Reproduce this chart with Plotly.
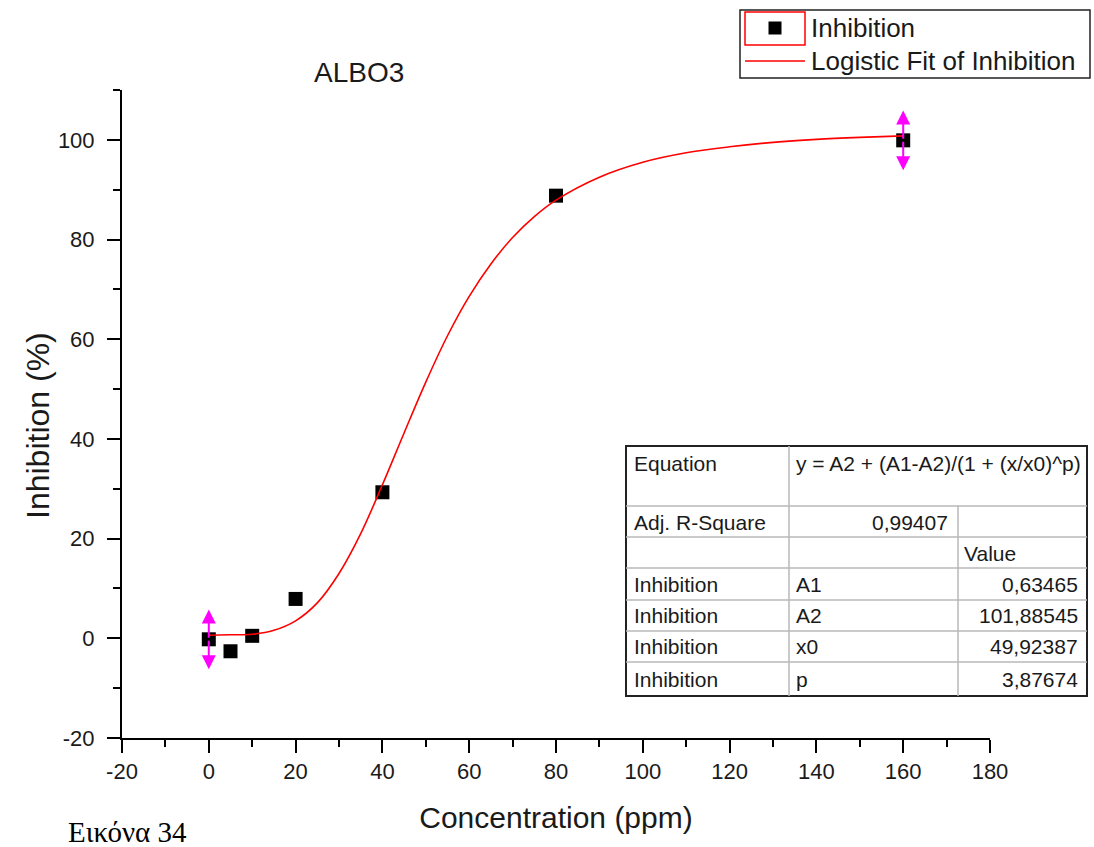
import plotly.graph_objects as go

# ---------------- data ----------------
conc = [0, 5, 10, 20, 40, 80, 160]
inhibition = [-0.2, -2.6, 0.5, 7.9, 29.3, 88.8, 99.9]
err = [6, None, None, None, None, None, 6]

fit_x = [0, 5, 10, 15, 20, 25, 30, 35, 40, 45, 50, 55, 60, 65, 70, 75, 80,
         90, 100, 110, 120, 130, 140, 150, 160]
fit_y = [0.6, 0.7, 0.8, 1.6, 3.5, 7.1, 13.0, 21.0, 30.8, 41.2, 51.4, 60.7, 68.6,
         75.1, 80.4, 84.6, 87.9, 92.5, 95.5, 97.4, 98.6, 99.5, 100.1, 100.5, 100.8]

x_ticks = [-20, 0, 20, 40, 60, 80, 100, 120, 140, 160, 180]
x_ticktext = ["-20", "0", "20", "40", "60", "80", "100", "120", "140", "160", "180"]
y_ticks = [-20, 0, 20, 40, 60, 80, 100]
y_ticktext = ["-20", "0", "20", "40", "60", "80", "100"]

series_names = ["Inhibition", "Logistic Fit of Inhibition"]

table_equation = "y = A2 + (A1-A2)/(1 + (x/x0)^p)"
adj_r2 = "0,99407"
param_rows = ["Inhibition", "Inhibition", "Inhibition", "Inhibition"]
param_names = ["A1", "A2", "x0", "p"]
param_values = ["0,63465", "101,88545", "49,92387", "3,87674"]

# ---------------- layout geometry ----------------
W, H = 1094, 847
ML, MR, MT, MB = 122, 104, 90, 109
PW, PH = W - ML - MR, H - MT - MB
FONT = "Liberation Sans, Arial, sans-serif"
TXT = "#1a1a1a"


def px(xp):
    return (xp - ML) / PW


def py(yp):
    return (H - MB - yp) / PH


fig = go.Figure()

fig.add_trace(go.Scatter(
    x=conc, y=inhibition, mode="markers", name=series_names[0],
    marker=dict(symbol="square", size=14, color="black",
                line=dict(width=0)),
))
fig.add_trace(go.Scatter(
    x=fit_x, y=fit_y, mode="lines", name=series_names[1],
    line=dict(color="#ff0000", width=1.6, shape="spline"),
))

annotations = []
shapes = []

# magenta double-headed error arrows
for xv, yv, e in zip(conc, inhibition, err):
    if e is None:
        continue
    for sgn in (1, -1):
        annotations.append(dict(
            x=xv, y=yv + sgn * e, ax=xv, ay=yv, xref="x", yref="y",
            axref="x", ayref="y", showarrow=True, arrowhead=2,
            arrowsize=1.4, arrowwidth=2, arrowcolor="#ff00ff", text="",
        ))

# title
annotations.append(dict(
    x=px(359), y=py(72), xref="paper", yref="paper", text="ALBO3",
    showarrow=False, xanchor="center", yanchor="middle",
    font=dict(family=FONT, size=28, color=TXT),
))
# y axis title
annotations.append(dict(
    x=px(38), y=py(426), xref="paper", yref="paper", text="Inhibition (%)",
    showarrow=False, xanchor="center", yanchor="middle", textangle=-90,
    font=dict(family=FONT, size=32, color=TXT),
))
# caption
annotations.append(dict(
    x=px(66), y=py(832), xref="paper", yref="paper", text="Εικόνα 34",
    showarrow=False, xanchor="left", yanchor="middle",
    font=dict(family="Liberation Serif, Times New Roman, serif", size=29,
              color="black"),
))

# ---------------- legend (Origin style) ----------------
lfont = dict(family=FONT, size=26, color=TXT)
shapes.append(dict(type="rect", xref="paper", yref="paper",
                   x0=px(740), x1=px(1090), y0=py(78), y1=py(10),
                   line=dict(color="#222222", width=1.5), fillcolor="white",
                   layer="above"))
shapes.append(dict(type="rect", xref="paper", yref="paper",
                   x0=px(745), x1=px(805), y0=py(45), y1=py(12),
                   line=dict(color="#ff0000", width=1.5), layer="above"))
shapes.append(dict(type="rect", xref="paper", yref="paper",
                   x0=px(768.5), x1=px(781.5), y0=py(34.5), y1=py(21.5),
                   line=dict(width=0), fillcolor="black", layer="above"))
shapes.append(dict(type="line", xref="paper", yref="paper",
                   x0=px(745), x1=px(805), y0=py(61), y1=py(61),
                   line=dict(color="#ff0000", width=1.6), layer="above"))
for name, yc in zip(series_names, (28, 61)):
    annotations.append(dict(
        x=px(809), y=py(yc), xref="paper", yref="paper", text=name,
        showarrow=False, xanchor="left", yanchor="middle", font=lfont,
    ))

# ---------------- parameter table ----------------
tx0, tx1 = 626, 1087
c1, c2 = 789, 958
rows_y = [446, 506, 537, 568, 600, 631, 662, 696]
tfont = dict(family=FONT, size=21, color=TXT)
grey = "#b8b8b8"

shapes.append(dict(type="rect", xref="paper", yref="paper",
                   x0=px(tx0), x1=px(tx1), y0=py(rows_y[-1]), y1=py(rows_y[0]),
                   line=dict(color="#222222", width=2), fillcolor="white",
                   layer="above"))
for ry in rows_y[1:-1]:
    shapes.append(dict(type="line", xref="paper", yref="paper",
                       x0=px(tx0), x1=px(tx1), y0=py(ry), y1=py(ry),
                       line=dict(color=grey, width=1.5), layer="above"))
shapes.append(dict(type="line", xref="paper", yref="paper",
                   x0=px(c1), x1=px(c1), y0=py(rows_y[-1]), y1=py(rows_y[0]),
                   line=dict(color=grey, width=1.5), layer="above"))
shapes.append(dict(type="line", xref="paper", yref="paper",
                   x0=px(c2), x1=px(c2), y0=py(rows_y[-1]), y1=py(rows_y[1]),
                   line=dict(color=grey, width=1.5), layer="above"))


def cell(text, xp, yp, anchor="left"):
    annotations.append(dict(
        x=px(xp), y=py(yp), xref="paper", yref="paper", text=text,
        showarrow=False, xanchor=anchor, yanchor="middle", font=tfont,
    ))


cell("Equation", 632, 463)
cell(table_equation, 794, 463)
cell("Adj. R-Square", 632, 522)
cell(adj_r2, 950, 522, "right")
cell("Value", 962, 553)
for i, (rn, pn, pv) in enumerate(zip(param_rows, param_names, param_values)):
    yc = (rows_y[3 + i] + rows_y[4 + i]) / 2
    cell(rn, 632, yc)
    cell(pn, 794, yc)
    cell(pv, 1080, yc, "right")

axis_common = dict(
    showgrid=False, zeroline=False, showline=True, linecolor="black",
    linewidth=2, ticks="outside", ticklen=13, tickwidth=2, tickcolor="black",
    tickfont=dict(family=FONT, size=22, color=TXT),
    minor=dict(ticks="outside", ticklen=7, tickwidth=2, tickcolor="black",
               dtick=10, showgrid=False),
)

fig.update_layout(
    width=W, height=H,
    margin=dict(l=ML, r=MR, t=MT, b=MB),
    paper_bgcolor="white", plot_bgcolor="white",
    showlegend=False,
    xaxis=dict(
        range=[-20, 180], tickvals=x_ticks, ticktext=x_ticktext,
        title=dict(text="Concentration (ppm)", standoff=24,
                   font=dict(family=FONT, size=30, color=TXT)),
        ticklabelstandoff=0,
        **axis_common,
    ),
    yaxis=dict(
        range=[-20, 110], tickvals=y_ticks, ticktext=y_ticktext,
        ticklabelstandoff=8,
        **axis_common,
    ),
    annotations=annotations,
    shapes=shapes,
    hovermode=False,
)

fig.write_html("out.html")
